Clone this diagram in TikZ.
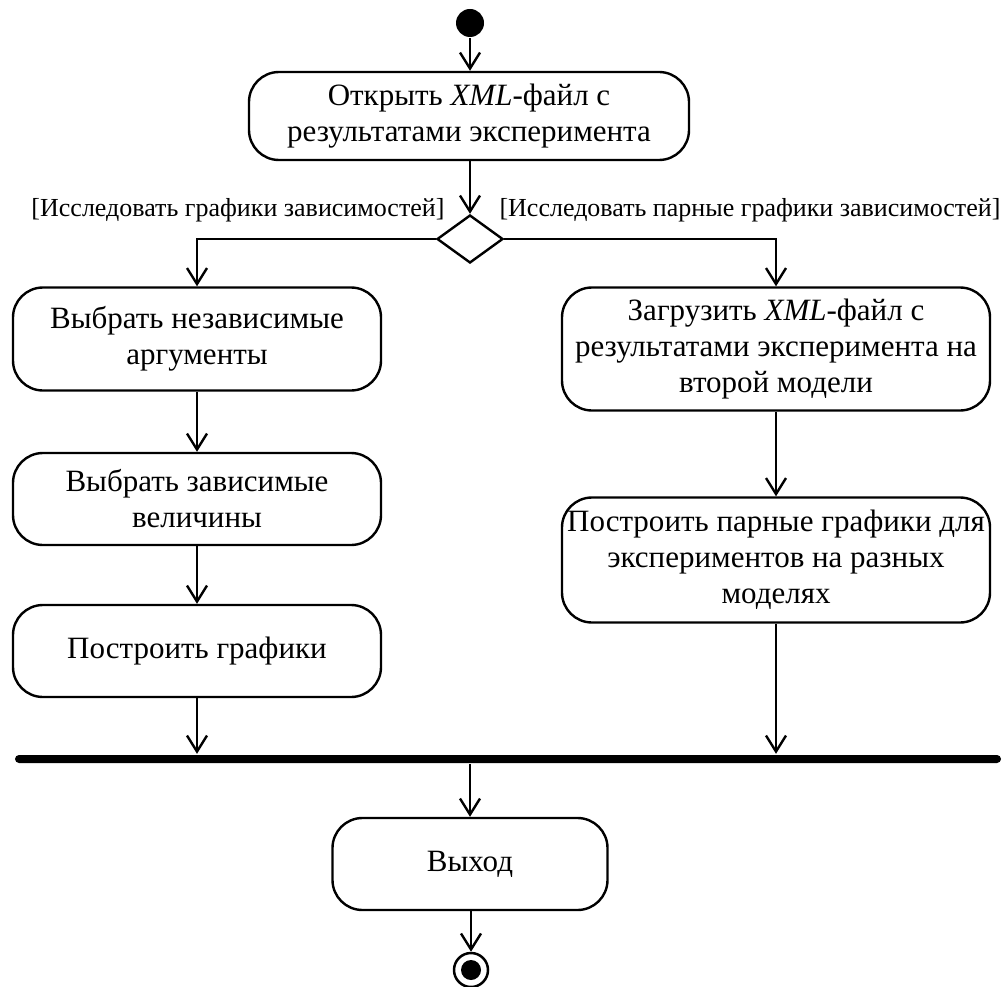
\documentclass[tikz,border=0pt]{standalone}
\usepackage{fontspec}
\setmainfont{Liberation Serif}
\usetikzlibrary{arrows.meta,shapes.geometric}
\begin{document}
\begin{tikzpicture}[x=1pt,y=-1pt,
  line width=2.4pt,
  act/.style={draw, rounded corners=30pt, align=center, inner sep=0pt,
    font=\fontsize{31}{36}\selectfont},
  lbl/.style={font=\fontsize{26}{30}\selectfont, inner sep=0pt},
  arr/.style={-{Straight Barb[length=16pt,width=20pt,line width=2.4pt]}},
  initnode/.style={circle, fill=black, minimum size=28pt, inner sep=0pt},
  dec/.style={diamond, draw, minimum width=66pt, minimum height=48pt, inner sep=0pt, aspect=1.4},
  barnode/.style={fill=black, rounded corners=4pt, minimum width=986pt, minimum height=8pt, inner sep=0pt}
]
\useasboundingbox (0,0) rectangle (1006,987);

\node[initnode] (start) at (470,23) {};
\node[act, minimum width=440pt, minimum height=88pt] (open) at (469,116)
  {Открыть \textit{XML}-файл с\\результатами эксперимента};
\node[dec] (d) at (470,239) {};
\node[lbl] (lblL) at (238,210) {[Исследовать графики зависимостей]};
\node[lbl] (lblR) at (750,210) {[Исследовать парные графики зависимостей]};

\node[act, minimum width=368pt, minimum height=103pt] (L1) at (197,339)
  {Выбрать независимые\\аргументы};
\node[act, minimum width=368pt, minimum height=92pt] (L2) at (197,499)
  {Выбрать зависимые\\величины};
\node[act, minimum width=368pt, minimum height=92pt] (L3) at (197,651)
  {Построить графики};

\node[act, minimum width=428pt, minimum height=123pt] (R1) at (776,349)
  {Загрузить \textit{XML}-файл с\\результатами эксперимента на\\второй модели};
\node[act, minimum width=428pt, minimum height=125pt] (R2) at (776,560)
  {Построить парные графики для\\экспериментов на разных\\моделях};

\node[barnode] (bar) at (508,759) {};

\node[act, minimum width=275pt, minimum height=92pt] (exit) at (470,864) {Выход};
\node[circle, draw, line width=2.5pt, minimum size=34pt, inner sep=0pt] (fin) at (471,970) {};
\node[circle, fill=black, minimum size=20pt, inner sep=0pt] (finin) at (fin.center) {};

\draw[arr] (start) -- (start |- open.north);
\draw[arr] (open.south -| d.north) -- (d.north);
\draw[arr] (d.west) -| (L1.north);
\draw[arr] (d.east) -| (R1.north);
\draw[arr] (L1) -- (L2);
\draw[arr] (L2) -- (L3);
\draw[arr] (L3.south) -- (L3.south |- bar.north);
\draw[arr] (R1) -- (R2);
\draw[arr] (R2.south) -- (R2.south |- bar.north);
\draw[arr] (exit.north |- bar.south) -- (exit.north);
\draw[arr] (exit.south -| fin.north) -- (fin.north);
\end{tikzpicture}
\end{document}
